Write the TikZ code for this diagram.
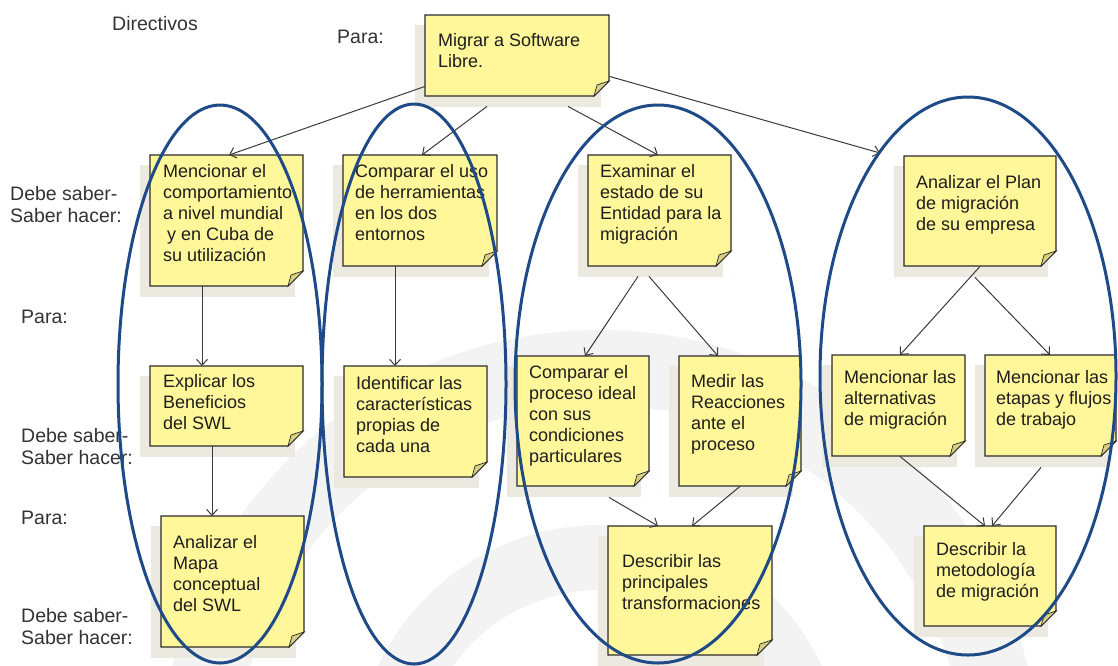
\documentclass[tikz,border=0pt]{standalone}
\usepackage{fontspec}
\setmainfont{Liberation Sans}
\usetikzlibrary{arrows.meta}
\definecolor{notefill}{HTML}{FFF799}
\definecolor{noteline}{HTML}{2B2B2B}
\definecolor{notefoldc}{HTML}{D8CF80}
\definecolor{noteshadow}{HTML}{ECEAE0}
\definecolor{ellblue}{HTML}{1E4B87}
\definecolor{arrgray}{HTML}{3A3A3A}
\definecolor{wmgray}{HTML}{F3F3F3}
\definecolor{txtc}{HTML}{1E1E1E}
\definecolor{labc}{HTML}{333333}
\tikzset{
  notebox/.style={fill=notefill, draw=noteline, line width=1.2pt, line join=miter},
  notefold/.style={fill=notefoldc, draw=noteline, line width=0.7pt},
  notesh/.style={fill=noteshadow},
  txt/.style={anchor=north west, inner sep=0pt, align=left, text=txtc, font=\fontsize{18}{21}\selectfont},
  lab/.style={anchor=north west, inner sep=0pt, align=left, text=labc, font=\fontsize{19.5}{22}\selectfont},
  arr/.style={draw=arrgray, line width=1pt, -{Straight Barb[length=6pt,width=11pt]}},
  ell/.style={draw=ellblue, line width=3pt},
}
\newcommand\stickynote[5]{%
  \fill[notesh] (#2-10,#3+10) rectangle (#4-8,#5+11);
  \path (#2,#3) node[anchor=north west, inner sep=0pt, minimum width={#4-#2}, minimum height={#5-#3}] (#1) {};
  \filldraw[notebox] (#2,#3) -- (#4,#3) -- (#4,#5-15) -- (#4-15,#5) -- (#2,#5) -- cycle;
  \filldraw[notefold] (#4,#5-15) -- (#4-15,#5) -- (#4-12,#5-11) -- cycle;
}
\newcommand\tx[4]{\node[txt] (#1) at (#2,#3-14) {\rule{0pt}{14pt}#4};}
\newcommand\lb[4]{\node[lab] (#1) at (#2,#3-15) {\rule{0pt}{15pt}#4};}
\begin{document}
\begin{tikzpicture}[x=1pt,y=-1pt]
\useasboundingbox (0,0) rectangle (1118,665);
% watermark
\begin{scope}
  \clip (0,0) rectangle (1118,665);
  \fill[wmgray, even odd rule] (600,770) circle (440) (600,770) circle (365);
  \fill[wmgray, even odd rule] (600,770) circle (245) (600,770) circle (180);
\end{scope}
% notes
\stickynote{T}{425}{15}{609}{96}
\stickynote{B1}{150}{155}{303}{286}
\stickynote{B2}{343}{155}{497}{266}
\stickynote{B3}{588}{155}{731}{266}
\stickynote{B4}{904}{156}{1056}{266}
\stickynote{B5}{150}{366}{303}{446}
\stickynote{B6}{344}{366}{487}{477}
\stickynote{B7}{517}{356}{649}{486}
\stickynote{B8}{679}{356}{801}{486}
\stickynote{B9}{832}{355}{965}{456}
\stickynote{B10}{985}{355}{1116}{456}
\stickynote{B11}{608}{526}{772}{655}
\stickynote{B12}{924}{526}{1056}{626}
\stickynote{B13}{161}{516}{304}{647}
% texts
\tx{tT}{438}{46}{Migrar a Software\\Libre.}
\tx{t1}{163}{177}{Mencionar el\\comportamiento\\a nivel mundial\\\hspace{4pt}y en Cuba de\\su utilización}
\tx{t2}{355}{177}{Comparar el uso\\de herramientas\\en los dos\\entornos}
\tx{t3}{600}{177}{Examinar el\\estado de su\\Entidad para la\\migración}
\tx{t4}{916}{188}{Analizar el Plan\\de migración\\de su empresa}
\tx{t5}{163}{387}{Explicar los\\Beneficios\\del SWL}
\tx{t6}{356}{389}{Identificar las\\características\\propias de\\cada una}
\tx{t7}{529}{378}{Comparar el\\proceso ideal\\con sus\\condiciones\\particulares}
\tx{t8}{691}{387}{Medir las\\Reacciones\\ante el\\proceso}
\tx{t9}{844}{383}{Mencionar las\\alternativas\\de migración}
\tx{t10}{996}{383}{Mencionar las\\etapas y flujos\\de trabajo}
\tx{t11}{622}{567}{Describir las\\principales\\transformaciones}
\tx{t12}{936}{555}{Describir la\\metodología\\de migración}
\tx{t13}{173}{548}{Analizar el\\Mapa\\conceptual\\del SWL}
% labels
\lb{lDir}{112}{30}{Directivos}
\lb{lPara0}{337}{43}{Para:}
\lb{lDS1}{10}{200}{Debe saber-\\Saber hacer:}
\lb{lPara1}{21}{323}{Para:}
\lb{lDS2}{21}{442}{Debe saber-\\Saber hacer:}
\lb{lPara2}{21}{524}{Para:}
\lb{lDS3}{21}{622}{Debe saber-\\Saber hacer:}
% connectors
\draw[arr] ([yshift=10pt]T.south west) -- ([xshift=79pt]B1.north west);
\draw[arr] ([xshift=62pt,yshift=-10pt]T.south west) -- ([xshift=79pt]B2.north west);
\draw[arr] ([xshift=143pt,yshift=-10pt]T.south west) -- ([xshift=70pt]B3.north west);
\draw[arr] ([yshift=20pt]T.south east) -- ([xshift=-24pt,yshift=3pt]B4.north west);
\draw[arr] ([xshift=52pt]B1.south west) -- ([xshift=52pt]B5.north west);
\draw[arr] ([xshift=62pt]B5.south west) -- ([xshift=51pt]B13.north west);
\draw[arr] ([xshift=52pt]B2.south west) -- ([xshift=51pt]B6.north west);
\draw[arr] ([xshift=50pt,yshift=-10pt]B3.south west) -- ([xshift=68pt]B7.north west);
\draw[arr] ([xshift=61pt,yshift=-10pt]B3.south west) -- ([xshift=39pt]B8.north west);
\draw[arr] ([xshift=76pt]B4.south west) -- ([xshift=68pt]B9.north west);
\draw[arr] ([xshift=71pt,yshift=-11pt]B4.south west) -- ([xshift=65pt]B10.north west);
\draw[arr] ([xshift=92pt,yshift=-11pt]B7.south west) -- ([xshift=50pt]B11.north west);
\draw[arr] ([xshift=61pt]B8.south west) -- ([xshift=84pt]B11.north west);
\draw[arr] ([xshift=68pt]B9.south west) -- ([xshift=61pt]B12.north west);
\draw[arr] ([xshift=56pt,yshift=-11pt]B10.south west) -- ([xshift=68pt]B12.north west);
% ellipses
\draw[ell] (220,384) ellipse [x radius=102, y radius=279];
\draw[ell] (414,384) ellipse [x radius=92, y radius=280];
\draw[ell] (658,384) ellipse [x radius=143, y radius=279];
\draw[ell] (968,376) ellipse [x radius=148, y radius=279];
\end{tikzpicture}
\end{document}
